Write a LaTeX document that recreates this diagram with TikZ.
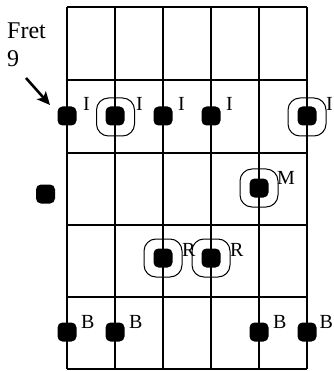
\documentclass[tikz,border=0pt]{standalone}
\usepackage{fontspec}
\setmainfont{Liberation Serif}
\usetikzlibrary{arrows.meta}
\begin{document}
\begin{tikzpicture}[x=1pt,y=-1pt,
  grid/.style={line width=1.4pt},
  dot/.style={fill=black,draw=none,rounded corners=5pt,minimum size=19pt,inner sep=0pt},
  ring/.style={draw=black,line width=1pt,rounded corners=12pt,minimum size=38pt,inner sep=0pt},
  lab/.style={anchor=base west,inner sep=0pt,font=\fontsize{20}{22}\selectfont},
  big/.style={anchor=base west,inner sep=0pt,font=\fontsize{24}{26}\selectfont},
  ptr/.style={line width=2.6pt,-{Stealth[length=13pt,width=12pt,inset=3pt]}}]
\useasboundingbox (0,0) rectangle (333,371);
% grid
\foreach \x in {67,115,163,211,259,307} \draw[grid] (\x,7) -- (\x,369);
\foreach \y in {7,80,153,225,297,369} \draw[grid] (67,\y) -- (307,\y);
% fret label
\node[big] (fret) at (7,39) {Fret};
\node[big] (nine) at (7,67) {9};
\coordinate (a0) at (26,78);
\coordinate (a1) at (50,105);
\draw[ptr] (a0) -- (a1);
% rings
\node[ring] (r1) at (115.5,117) {};
\node[ring] (r2) at (307,117) {};
\node[ring] (r3) at (259,188) {};
\node[ring] (r4) at (163,258) {};
\node[ring] (r5) at (211,258) {};
% row 1
\node[dot] (d11) at (67,116) {};
\node[dot] (d12) at (115,116) {};
\node[dot] (d13) at (163,116) {};
\node[dot] (d14) at (211,116) {};
\node[dot] (d15) at (307,116) {};
\node[lab] (l11) at (83,111) {I};
\node[lab] (l12) at (136,111) {I};
\node[lab] (l13) at (178,111) {I};
\node[lab] (l14) at (226,111) {I};
\node[lab] (l15) at (326,111) {I};
% row 2
\node[dot] (d21) at (45.5,194) {};
\node[dot] (d22) at (259,188) {};
\node[lab] (l22) at (277,184) {M};
% row 3
\node[dot] (d31) at (163,258) {};
\node[dot] (d32) at (211,258) {};
\node[lab] (l31) at (182,256) {R};
\node[lab] (l32) at (230,256) {R};
% row 4
\node[dot] (d41) at (67,332) {};
\node[dot] (d42) at (115,332) {};
\node[dot] (d43) at (259,332) {};
\node[dot] (d44) at (307,332) {};
\node[lab] (l41) at (81,328) {B};
\node[lab] (l42) at (129,328) {B};
\node[lab] (l43) at (273,328) {B};
\node[lab] (l44) at (319.5,328) {B};
\end{tikzpicture}
\end{document}
